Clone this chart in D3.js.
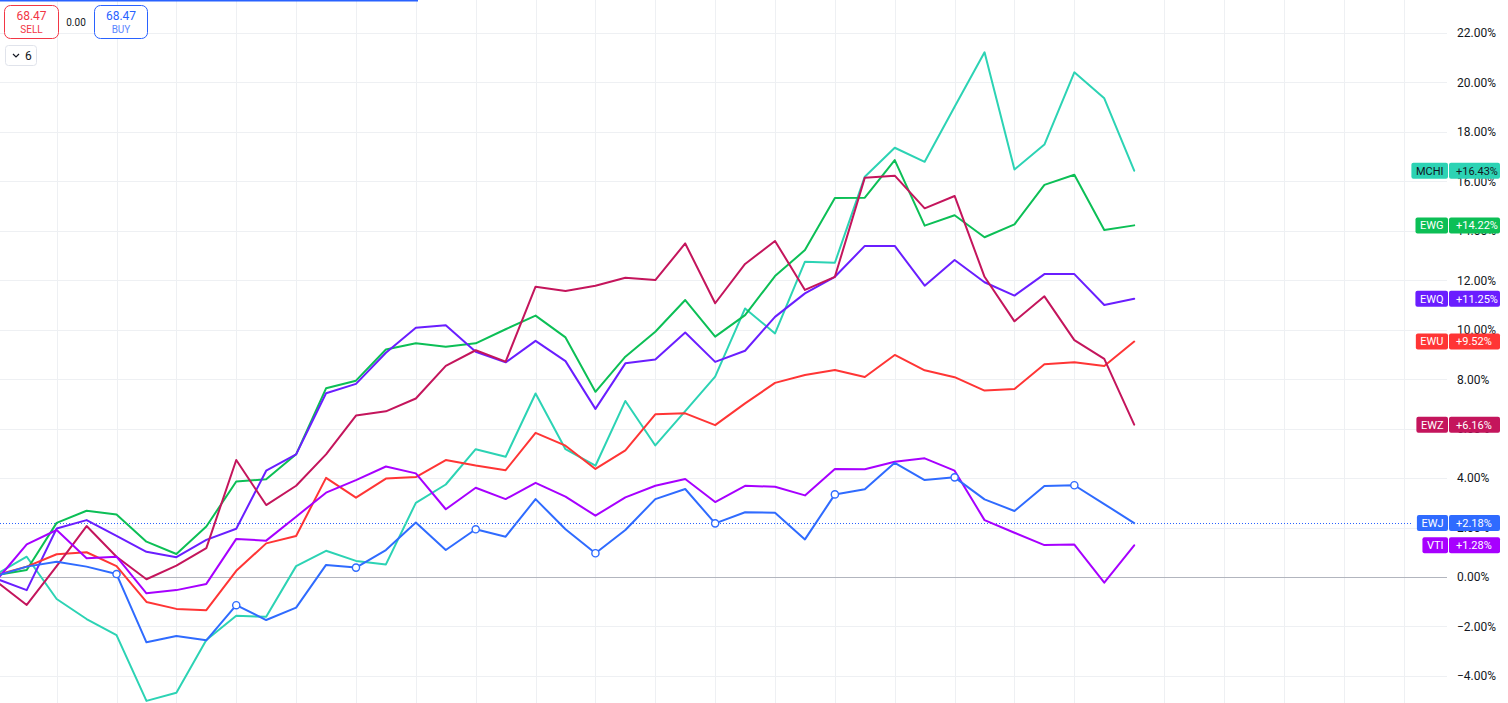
<!DOCTYPE html>
<html><head><meta charset="utf-8">
<script src="https://cdn.jsdelivr.net/npm/d3@7"></script>
<style>
html,body{margin:0;padding:0;background:#fff;overflow:hidden}
svg{display:block;font-family:Roboto,"Noto Sans",sans-serif}
</style></head><body>
<svg id="chart" width="1508" height="703"></svg>
<script>
// ---- data (percent change from start, one value per session) ----
const sessions = d3.range(39);
const gridSessions = [2,4,6,8,10,12,14,16,18,20,22,24,26,28,30,32,34,36,39,41,43,45,47];
const yTicks = [-4,-2,0,2,4,6,8,10,12,14,16,18,20,22];
const seriesNames = ["MCHI","EWG","EWQ","EWU","EWZ","EWJ","VTI"];

const MCHI = [0.12,0.82,-0.89,-1.70,-2.35,-5.01,-4.68,-2.55,-1.57,-1.61,0.44,1.06,0.65,0.51,3.00,3.74,5.17,4.86,7.42,5.17,4.50,7.12,5.32,6.71,8.10,10.86,9.85,12.75,12.71,16.19,17.36,16.79,19.02,21.22,16.48,17.49,20.41,19.36,16.43];
const EWG = [0.08,0.28,2.19,2.68,2.53,1.43,0.93,2.04,3.86,3.95,4.96,7.63,7.94,9.20,9.45,9.31,9.45,10.02,10.57,9.69,7.49,8.91,9.92,11.20,9.72,10.59,12.17,13.22,15.33,15.34,16.86,14.21,14.63,13.74,14.26,15.86,16.27,14.03,14.22];
const EWQ = [-0.08,-0.53,1.96,2.30,1.66,1.02,0.80,1.50,1.95,4.30,4.96,7.43,7.81,9.07,10.08,10.18,9.11,8.68,9.55,8.73,6.80,8.64,8.80,9.89,8.70,9.15,10.52,11.47,12.14,13.39,13.39,11.78,12.82,11.92,11.38,12.25,12.25,11.00,11.25];
const EWU = [0.08,0.42,0.92,1.00,0.44,-1.01,-1.29,-1.34,0.25,1.36,1.66,4.01,3.21,3.98,4.04,4.73,4.51,4.32,5.83,5.31,4.37,5.12,6.58,6.62,6.14,7.02,7.85,8.17,8.37,8.09,8.98,8.36,8.08,7.54,7.60,8.60,8.68,8.53,9.52];
const EWZ = [-0.19,-1.13,0.44,2.06,0.82,-0.09,0.46,1.17,4.73,2.91,3.69,4.96,6.53,6.70,7.22,8.54,9.17,8.71,11.74,11.57,11.78,12.10,12.01,13.49,11.07,12.66,13.59,11.61,12.14,16.15,16.23,14.91,15.41,12.14,10.34,11.35,9.58,8.82,6.16];
const EWJ = [0.05,0.42,0.62,0.42,0.12,-2.64,-2.39,-2.56,-1.14,-1.74,-1.24,0.49,0.38,1.09,2.20,1.09,1.93,1.63,3.15,1.93,0.96,1.90,3.15,3.56,2.17,2.62,2.60,1.52,3.34,3.55,4.62,3.92,4.03,3.14,2.67,3.68,3.71,2.95,2.18];
const VTI = [-0.12,1.32,1.90,0.76,0.82,-0.66,-0.53,-0.28,1.54,1.47,2.44,3.41,3.92,4.47,4.19,2.74,3.61,3.15,3.81,3.25,2.48,3.22,3.69,3.96,3.03,3.69,3.65,3.30,4.37,4.36,4.66,4.80,4.30,2.30,1.79,1.29,1.31,-0.23,1.28];
const ewjMarkerSessions = [4,8,12,16,20,24,28,32,36];

const seriesValues = {MCHI, EWG, EWQ, EWU, EWZ, EWJ, VTI};

// ---- styles ----
const colors = {MCHI:"#2cd3b4", EWG:"#0cbf56", EWQ:"#6a1eff", EWU:"#ff3535", EWZ:"#c4155c", EWJ:"#2f6bff", VTI:"#a700ff"};
const badgeText = {MCHI:"#131722", EWG:"#ffffff", EWQ:"#ffffff", EWU:"#ffffff", EWZ:"#ffffff", EWJ:"#ffffff", VTI:"#ffffff"};

const W = 1508, H = 703, paneRight = 1447;
const svg = d3.select("#chart");
const x = d3.scaleLinear().domain([0, 38]).range([-3.2, 1134.2]);
const y = d3.scaleLinear().domain([0, 22]).range([577, 33]);

// grid
const vg = svg.append("g").attr("class","vgrid")
  .call(d3.axisBottom(x).tickValues(gridSessions).tickSize(H).tickFormat(""));
vg.select(".domain").remove();
vg.selectAll("line").attr("stroke","#eef0f3").attr("shape-rendering","crispEdges");

const hg = svg.append("g").attr("class","hgrid")
  .call(d3.axisRight(y).tickValues(yTicks).tickSize(paneRight).tickFormat(""));
hg.select(".domain").remove();
hg.selectAll("line").attr("stroke","#eef0f3").attr("shape-rendering","crispEdges");

// zero line
svg.append("line").attr("x1",0).attr("x2",paneRight).attr("y1",y(0)).attr("y2",y(0))
  .attr("stroke","#b2b5be").attr("stroke-width",1).attr("shape-rendering","crispEdges");

// price axis labels
const fmt = d3.format(".2f");
const ax = svg.append("g").attr("transform","translate(1457,0)")
  .call(d3.axisRight(y).tickValues(yTicks).tickSize(0).tickPadding(0).tickFormat(d => fmt(d) + "%"));
ax.select(".domain").remove();
ax.selectAll("text").attr("fill","#131722").attr("font-size",12)
  .attr("font-family","Roboto, 'Noto Sans', sans-serif").attr("text-anchor","start");

// dotted last-value line for EWJ
svg.append("line").attr("x1",0).attr("x2",1413)
  .attr("y1",Math.round(y(EWJ[EWJ.length-1]))+0.5).attr("y2",Math.round(y(EWJ[EWJ.length-1]))+0.5)
  .attr("stroke","#2962ff").attr("stroke-width",1).attr("stroke-dasharray","1,2");

// clip
svg.append("clipPath").attr("id","pane").append("rect").attr("x",0).attr("y",0).attr("width",paneRight).attr("height",H);

const line = d3.line().x((d,i) => x(sessions[i])).y(d => y(d));
const drawOrder = ["MCHI","EWG","EWQ","EWU","EWZ","VTI","EWJ"];
const lg = svg.append("g").attr("clip-path","url(#pane)");
drawOrder.forEach(name => {
  lg.append("path").datum(seriesValues[name]).attr("d", line)
    .attr("fill","none").attr("stroke",colors[name]).attr("stroke-width",2)
    .attr("stroke-linejoin","round").attr("stroke-linecap","round");
});
lg.selectAll("circle.mk").data(ewjMarkerSessions).join("circle").attr("class","mk")
  .attr("cx", d => x(d)).attr("cy", d => y(EWJ[d])).attr("r",3.6)
  .attr("fill","#fff").attr("stroke",colors.EWJ).attr("stroke-width",1.4);

// badges
const bg = svg.append("g").attr("font-size",11).attr("font-family","Roboto, 'Noto Sans', sans-serif");
seriesNames.forEach(name => {
  const vals = seriesValues[name];
  const v = vals[vals.length-1];
  const cy = y(v);
  const g = bg.append("g");
  const nt = g.append("text").text(name).attr("y", cy).attr("dy","0.35em")
    .attr("fill", badgeText[name]).attr("text-anchor","middle");
  const tw = nt.node().getComputedTextLength();
  const bw = tw + 9;
  g.insert("rect","text").attr("x",1448 - bw).attr("y",cy-8).attr("width",bw).attr("height",16)
    .attr("rx",2).attr("fill",colors[name]);
  nt.attr("x", 1448 - bw/2);
  g.append("rect").attr("x",1449).attr("y",cy-8).attr("width",51).attr("height",16)
    .attr("rx",2).attr("fill",colors[name]);
  g.append("text").text((v>=0?"+":"") + fmt(v) + "%").attr("x",1456).attr("y",cy).attr("dy","0.35em")
    .attr("fill", badgeText[name]);
});

// top progress bar
svg.append("rect").attr("x",0).attr("y",0).attr("width",418).attr("height",1.5).attr("fill","#2962ff");

// sell / buy widget
const tw2 = svg.append("g").attr("font-family","Roboto, 'Noto Sans', sans-serif");
tw2.append("rect").attr("x",4.5).attr("y",5.5).attr("width",54).attr("height",33).attr("rx",6)
  .attr("fill","#fff").attr("stroke","#f23645");
tw2.append("text").text("68.47").attr("x",31.5).attr("y",20).attr("text-anchor","middle")
  .attr("font-size",12).attr("fill","#f23645");
tw2.append("text").text("SELL").attr("x",31.5).attr("y",33).attr("text-anchor","middle")
  .attr("font-size",10).attr("fill","#f23645");
tw2.append("text").text("0.00").attr("x",76).attr("y",25.5).attr("text-anchor","middle")
  .attr("font-size",10).attr("fill","#131722");
tw2.append("rect").attr("x",94.5).attr("y",5.5).attr("width",53).attr("height",33).attr("rx",6)
  .attr("fill","#fff").attr("stroke","#2962ff");
tw2.append("text").text("68.47").attr("x",121).attr("y",20).attr("text-anchor","middle")
  .attr("font-size",12).attr("fill","#2962ff");
tw2.append("text").text("BUY").attr("x",121).attr("y",33).attr("text-anchor","middle")
  .attr("font-size",10).attr("fill","#5a86ff");
tw2.append("rect").attr("x",5.5).attr("y",45.5).attr("width",31).attr("height",20).attr("rx",3)
  .attr("fill","#fff").attr("stroke","#e0e3eb");
tw2.append("path").attr("d","M13,54 L16,57 L19,54").attr("fill","none").attr("stroke","#131722").attr("stroke-width",1.2);
tw2.append("text").text("6").attr("x",25).attr("y",60).attr("font-size",12).attr("fill","#131722");
</script>
</body></html>
